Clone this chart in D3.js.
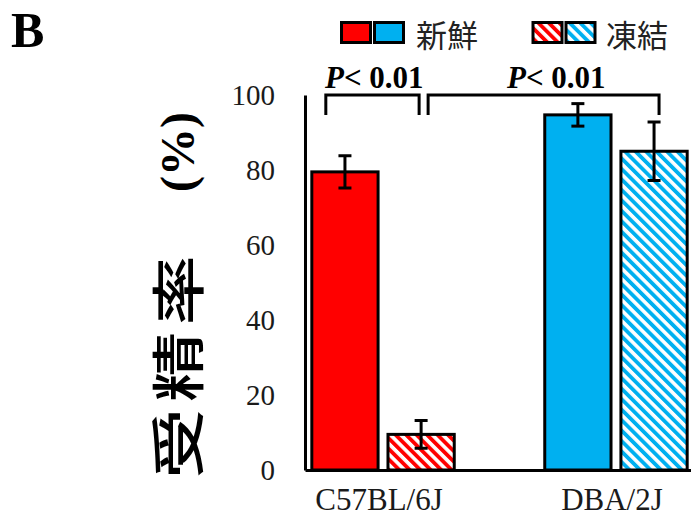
<!DOCTYPE html>
<html>
<head>
<meta charset="utf-8">
<script src="https://cdn.jsdelivr.net/npm/d3@7"></script>
<style>
  body { margin: 0; background: #fff; }
  svg { display: block; }
</style>
</head>
<body>
<div id="chart"></div>
<script>
const strains = ["C57BL/6J", "DBA/2J"];
const conditions = ["新鮮", "凍結"];
const freshRate = [79.5, 94.7];
const freshErr = [4.3, 3.0];
const frozenRate = [9.5, 85.0];
const frozenErr = [3.7, 7.8];
const yTicks = [0, 20, 40, 60, 80, 100];
const strainColors = ["#ff0000", "#00b0f0"];
const pLabel = "< 0.01";

const width = 691;
const height = 516;
const serif = "'Liberation Serif', 'Times New Roman', serif";
const cjk = "'Noto Sans CJK JP', 'Noto Sans CJK SC', sans-serif";

const rows = [];
strains.forEach((s, i) => {
  rows.push({ strain: s, cond: conditions[0], value: freshRate[i], err: freshErr[i], color: strainColors[i], hatched: false, idx: i });
  rows.push({ strain: s, cond: conditions[1], value: frozenRate[i], err: frozenErr[i], color: strainColors[i], hatched: true, idx: i });
});

const svg = d3.select("#chart")
  .append("svg")
  .attr("width", width)
  .attr("height", height);

const defs = svg.append("defs");
strainColors.forEach((c, i) => {
  const p = defs.append("pattern")
    .attr("id", `hatch-${i}`)
    .attr("patternUnits", "userSpaceOnUse")
    .attr("width", 7.4)
    .attr("height", 7.4)
    .attr("patternTransform", "rotate(-45)");
  p.append("rect").attr("width", 7.4).attr("height", 7.4).attr("fill", "#fff");
  p.append("rect").attr("width", 3.8).attr("height", 7.4).attr("fill", c);
});

const y = d3.scaleLinear().domain([0, 100]).range([470, 95]);

const x = d3.scaleBand()
  .domain(strains)
  .range([305, 694])
  .paddingInner(0.382)
  .paddingOuter(0.026);

const x1 = d3.scaleBand()
  .domain(conditions)
  .range([0, x.bandwidth()])
  .paddingInner(0.13)
  .paddingOuter(0.01);

const fillFor = d => d.hatched ? `url(#hatch-${d.idx})` : d.color;

// bars
svg.selectAll(".bar")
  .data(rows)
  .enter()
  .append("rect")
  .attr("class", "bar")
  .attr("x", d => x(d.strain) + x1(d.cond))
  .attr("y", d => y(d.value))
  .attr("width", x1.bandwidth())
  .attr("height", d => y(0) - y(d.value))
  .attr("fill", fillFor)
  .attr("stroke", "#000")
  .attr("stroke-width", 3);

// error bars
const cx = d => x(d.strain) + x1(d.cond) + x1.bandwidth() / 2;
const err = svg.selectAll(".err")
  .data(rows)
  .enter()
  .append("g")
  .attr("class", "err")
  .attr("stroke", "#000")
  .attr("stroke-width", 3);

err.append("line")
  .attr("x1", cx).attr("x2", cx)
  .attr("y1", d => y(d.value + d.err))
  .attr("y2", d => y(d.value - d.err));
err.append("line")
  .attr("x1", d => cx(d) - 6.5).attr("x2", d => cx(d) + 6.5)
  .attr("y1", d => y(d.value + d.err)).attr("y2", d => y(d.value + d.err));
err.append("line")
  .attr("x1", d => cx(d) - 6.5).attr("x2", d => cx(d) + 6.5)
  .attr("y1", d => y(d.value - d.err)).attr("y2", d => y(d.value - d.err));

// axes
const yAxis = svg.append("g")
  .attr("transform", "translate(305,0)")
  .call(d3.axisLeft(y).tickValues(yTicks).tickSize(0).tickSizeOuter(0).tickPadding(30));
yAxis.select(".domain").attr("stroke", "#000").attr("stroke-width", 3);
yAxis.selectAll("text")
  .attr("font-family", serif)
  .attr("font-size", 29)
  .attr("fill", "#1a1a1a");

const xAxis = svg.append("g")
  .attr("transform", "translate(0,470)")
  .call(d3.axisBottom(x).tickSize(0).tickSizeOuter(0).tickPadding(18));
xAxis.select(".domain").attr("stroke", "#000").attr("stroke-width", 3);
xAxis.selectAll("text")
  .attr("font-family", serif)
  .attr("font-size", 31)
  .attr("fill", "#1a1a1a")
  .attr("dx", -4);

// y title
svg.append("g")
  .attr("transform", "translate(199,367) rotate(-90) scale(1.3,1)")
  .append("text")
  .attr("text-anchor", "middle")
  .attr("dx", 2.5)
  .attr("font-family", cjk)
  .attr("font-weight", 500)
  .attr("font-size", 54)
  .attr("letter-spacing", 5)
  .attr("fill", "#000")
  .text("受精率");

svg.append("text")
  .attr("transform", "translate(194,152) rotate(-90)")
  .attr("text-anchor", "middle")
  .attr("font-family", serif)
  .attr("font-weight", 700)
  .attr("font-size", 48)
  .attr("fill", "#000")
  .text("(%)");

// panel letter
svg.append("text")
  .attr("x", 11)
  .attr("y", 47)
  .attr("font-family", serif)
  .attr("font-weight", 700)
  .attr("font-size", 50)
  .attr("fill", "#000")
  .text("B");

// significance brackets
const barCenter = (s, c) => x(s) + x1(c) + x1.bandwidth() / 2;
const bTop = y(100);
const brackets = [
  { left: x(strains[0]) + x1(conditions[0]) + 14, right: barCenter(strains[0], conditions[1]) - 2, textX: 325 },
  { left: barCenter(strains[0], conditions[1]) + 7, right: barCenter(strains[1], conditions[1]) + 5, textX: 507 }
];

brackets.forEach(b => {
  svg.append("path")
    .attr("d", `M${b.left},${bTop + 20}V${bTop}H${b.right}V${bTop + 20}`)
    .attr("fill", "none")
    .attr("stroke", "#000")
    .attr("stroke-width", 3);

  const t = svg.append("text")
    .attr("x", b.textX)
    .attr("y", 88)
    .attr("font-family", serif)
    .attr("font-weight", 700)
    .attr("font-size", 31)
    .attr("fill", "#000");
  t.append("tspan").attr("font-style", "italic").text("P");
  t.append("tspan").text(pLabel);
});

// legend
const legendGroups = [
  { x: 341.5, label: conditions[0], hatched: false, textX: 416 },
  { x: 533, label: conditions[1], hatched: true, textX: 606 }
];

legendGroups.forEach(g => {
  strainColors.forEach((c, i) => {
    svg.append("rect")
      .attr("x", g.x + i * 33)
      .attr("y", 22.5)
      .attr("width", 29)
      .attr("height", 20)
      .attr("fill", g.hatched ? `url(#hatch-${i})` : c)
      .attr("stroke", "#000")
      .attr("stroke-width", 3);
  });
  svg.append("text")
    .attr("x", g.textX)
    .attr("y", 47)
    .attr("font-family", cjk)
    .attr("font-size", 31)
    .attr("fill", "#222")
    .text(g.label);
});
</script>
</body>
</html>
